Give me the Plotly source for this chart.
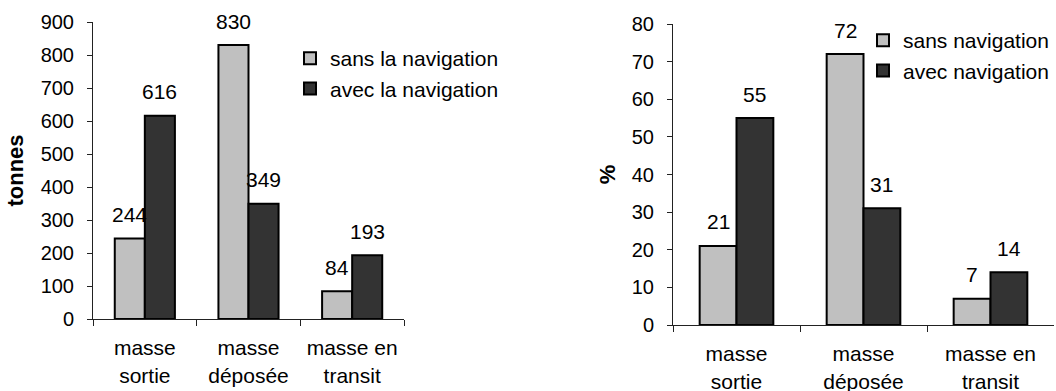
import plotly.graph_objects as go

# Data
categories = ["masse<br>sortie", "masse<br>déposée", "masse en<br>transit"]

tonnes_sans = [244, 830, 84]
tonnes_avec = [616, 349, 193]

pct_sans = [21, 72, 7]
pct_avec = [55, 31, 14]

left_legend_names = ["sans la navigation", "avec la navigation"]
right_legend_names = ["sans navigation", "avec navigation"]

# Figure geometry (px)
W, H = 1056, 391
LIGHT = "#C0C0C0"
DARK = "#333333"
FONT = "Arial, Liberation Sans, sans-serif"
BARGAP = 0.42

# plot areas in pixels: (x0, x1, ytop, ybottom)
left_box = (93, 404, 22, 319)
right_box = (673, 1054, 24, 325)


def dom_x(b):
    return [b[0] / W, b[1] / W]


def dom_y(b):
    return [1 - b[3] / H, 1 - b[2] / H]


fig = go.Figure()

bar_line = dict(color="black", width=2)

fig.add_trace(go.Bar(x=categories, y=tonnes_sans, name=left_legend_names[0],
                     marker=dict(color=LIGHT, line=bar_line),
                     xaxis="x", yaxis="y", legend="legend"))
fig.add_trace(go.Bar(x=categories, y=tonnes_avec, name=left_legend_names[1],
                     marker=dict(color=DARK, line=bar_line),
                     xaxis="x", yaxis="y", legend="legend"))
fig.add_trace(go.Bar(x=categories, y=pct_sans, name=right_legend_names[0],
                     marker=dict(color=LIGHT, line=bar_line),
                     xaxis="x2", yaxis="y2", legend="legend2"))
fig.add_trace(go.Bar(x=categories, y=pct_avec, name=right_legend_names[1],
                     marker=dict(color=DARK, line=bar_line),
                     xaxis="x2", yaxis="y2", legend="legend2"))

# value labels above bars
annotations = []
for box, xr, yr, sans, avec in [(left_box, "x", "y", tonnes_sans, tonnes_avec),
                                (right_box, "x2", "y2", pct_sans, pct_avec)]:
    cat_w = (box[1] - box[0]) / len(categories)
    half_bar = cat_w * (1 - BARGAP) / 4
    for cat, vs, va in zip(categories, sans, avec):
        for v, sh in [(vs, -half_bar), (va, half_bar)]:
            annotations.append(dict(
                x=cat, y=v, xref=xr, yref=yr, text=str(v), showarrow=False,
                xshift=sh, yshift=24, xanchor="center", yanchor="middle",
                font=dict(family=FONT, size=21, color="black")))

axis_common = dict(showline=True, linecolor="#222", linewidth=1, showgrid=False,
                   zeroline=False, ticks="outside", tickcolor="#222", tickwidth=1,
                   automargin=False)

xaxis_common = dict(axis_common, tickson="boundaries", ticklen=6,
                    ticklabelstandoff=10,
                    tickfont=dict(family=FONT, size=21, color="black"))

yaxis_common = dict(axis_common, ticklen=5, ticklabelstandoff=9,
                    tickfont=dict(family=FONT, size=20, color="black"))

fig.update_layout(
    width=W, height=H,
    margin=dict(l=0, r=0, t=0, b=0),
    paper_bgcolor="white", plot_bgcolor="white",
    barmode="group", bargap=BARGAP, bargroupgap=0,
    font=dict(family=FONT, size=21, color="black"),
    xaxis=dict(xaxis_common, domain=dom_x(left_box), anchor="y"),
    yaxis=dict(yaxis_common, domain=dom_y(left_box), anchor="x",
               range=[0, 900], dtick=100,
               title=dict(text="<b>tonnes</b>", standoff=10,
                          font=dict(family=FONT, size=22, color="black"))),
    xaxis2=dict(xaxis_common, domain=dom_x(right_box), anchor="y2"),
    yaxis2=dict(yaxis_common, domain=dom_y(right_box), anchor="x2",
                range=[0, 80], dtick=10,
                title=dict(text="<b>%</b>", standoff=10,
                           font=dict(family=FONT, size=22, color="black"))),
    legend=dict(x=290 / W, y=1 - 38 / H, xanchor="left", yanchor="top",
                bgcolor="rgba(0,0,0,0)", font=dict(family=FONT, size=21)),
    legend2=dict(x=863 / W, y=1 - 20 / H, xanchor="left", yanchor="top",
                 bgcolor="rgba(0,0,0,0)", font=dict(family=FONT, size=21)),
    annotations=annotations,
    showlegend=True,
)

fig.write_html("out.html")
